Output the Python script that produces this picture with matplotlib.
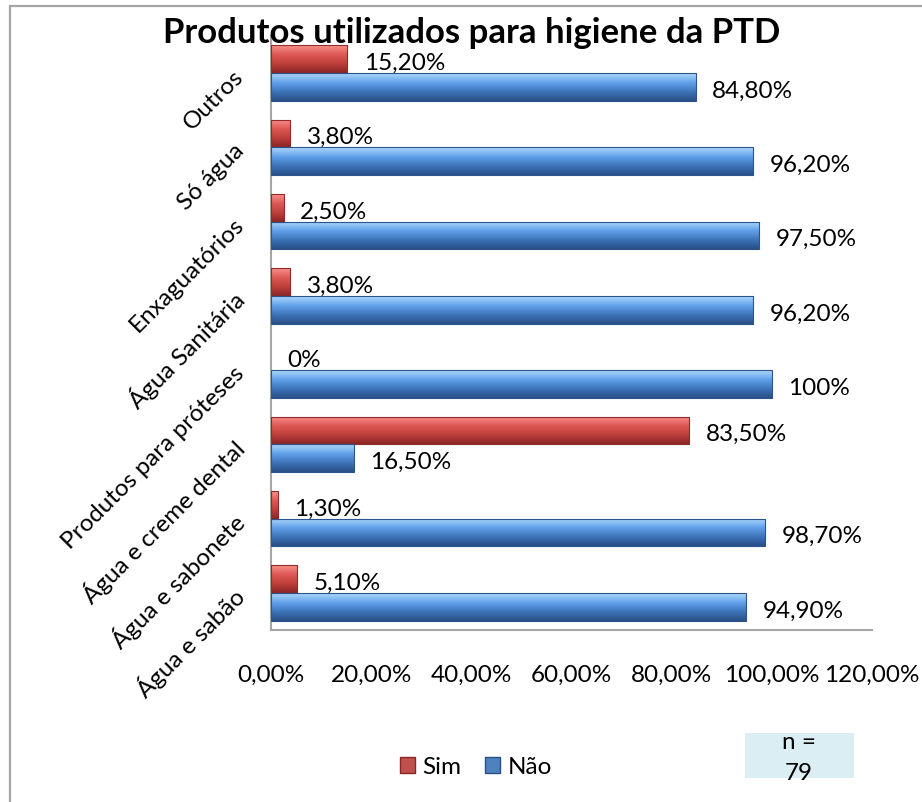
import matplotlib
matplotlib.use("Agg")
import matplotlib.pyplot as plt
import numpy as np
from matplotlib.colors import LinearSegmentedColormap
from matplotlib.patches import Rectangle, Patch

plt.rcParams["font.family"] = ["Lato", "DejaVu Sans"]

# data (bottom -> top as drawn)
categories = ["Água e sabão", "Água e sabonete", "Água e creme dental",
              "Produtos para próteses", "Água Sanitária", "Enxaguatórios",
              "Só água", "Outros"]
sim = [5.1, 1.3, 83.5, 0.0, 3.8, 2.5, 3.8, 15.2]
nao = [94.9, 98.7, 16.5, 100.0, 96.2, 97.5, 96.2, 84.8]
x_ticks = [0, 20, 40, 60, 80, 100, 120]
title = "Produtos utilizados para higiene da PTD"
n_text = "n =\n79"

W, H = 922, 802
FS = 17.5
fig = plt.figure(figsize=(W / 100, H / 100), dpi=100)


def px(x0, y0, x1, y1):
    # pixel box (top-left origin) -> figure fraction rect
    return [x0 / W, 1 - y1 / H, (x1 - x0) / W, (y1 - y0) / H]


# outer chart frame (runs off the right/bottom edge in the original)
fig.patches.append(Rectangle((10 / W, -0.05), 1.1, 1 - 6 / H + 0.05,
                             transform=fig.transFigure, fill=False,
                             edgecolor="#A6A6A6", linewidth=1.6))

ax = fig.add_axes(px(271, 36, 872, 630))
y = np.arange(len(categories))
bh = 0.375
red_map = LinearSegmentedColormap.from_list(
    "r", ["#F8918D", "#DE5A56", "#BE3F3C", "#8A2725"])
blue_map = LinearSegmentedColormap.from_list(
    "b", ["#B0D8FC", "#62A2EA", "#3E74BA", "#284F86"])

b_sim = ax.barh(y + bh / 2, sim, height=bh, color="#C0504D", zorder=2)
b_nao = ax.barh(y - bh / 2, nao, height=bh, color="#4F81BD", zorder=2)

grad = np.linspace(0, 1, 64).reshape(-1, 1)
for cont, cmap in ((b_sim, red_map), (b_nao, blue_map)):
    for p in cont.patches:
        x0, y0 = p.get_x(), p.get_y()
        w, h = p.get_width(), p.get_height()
        if w <= 0:
            continue
        im = ax.imshow(grad, cmap=cmap, extent=[x0, x0 + w, y0, y0 + h],
                       origin="upper", aspect="auto", zorder=3,
                       interpolation="bilinear")
        im.set_clip_path(p)
        ax.add_patch(Rectangle((x0, y0), w, h, fill=False,
                               edgecolor=cmap(0.95), linewidth=0.8, zorder=4))


def fmt(v):
    if float(v).is_integer() and v in (0, 100):
        return f"{v:.0f}%"
    return f"{v:.2f}%".replace(".", ",")


for vals, offs in ((sim, bh / 2), (nao, -bh / 2)):
    for yi, v in zip(y, vals):
        ax.annotate(fmt(v), (v, yi + offs), xytext=(12, -3),
                    textcoords="offset points", va="center", ha="left",
                    fontsize=FS, color="black", zorder=5)

ax.set_xlim(0, 120)
ax.set_ylim(-0.5, len(categories) - 0.5)
ax.set_xticks(x_ticks)
ax.set_xticklabels([f"{t:.2f}%".replace(".", ",") for t in x_ticks],
                   fontsize=FS)
ax.set_yticks(y)
ax.set_yticklabels(categories, rotation=45, ha="right", va="center",
                   rotation_mode="anchor", fontsize=FS)
ax.tick_params(axis="x", length=0, pad=25)
ax.tick_params(axis="y", length=0, pad=22)
for s in ("top", "right"):
    ax.spines[s].set_visible(False)
for s in ("left", "bottom"):
    ax.spines[s].set_color("#A6A6A6")
    ax.spines[s].set_linewidth(1.5)

fig.text(472 / W, 1 - 33 / H, title, ha="center", va="center",
         fontsize=25, fontweight="bold")

handles = [Patch(facecolor="#C0504D", edgecolor="#8A2725", label="Sim"),
           Patch(facecolor="#4F81BD", edgecolor="#284F86", label="Não")]
fig.legend(handles=handles, loc="center", bbox_to_anchor=(476 / W, 1 - 767 / H),
           ncol=2, frameon=False, fontsize=FS, handlelength=0.6,
           handleheight=0.6, handletextpad=0.3, columnspacing=1.0)

fig.patches.append(Rectangle((745 / W, 1 - 778 / H), 109 / W, 45 / H,
                             transform=fig.transFigure, facecolor="#DAEEF3",
                             edgecolor="none"))
fig.text(799 / W, 1 - 758 / H, n_text, ha="center", va="center",
         fontsize=FS, linespacing=1.6)

fig.savefig("out.png", dpi=100)
